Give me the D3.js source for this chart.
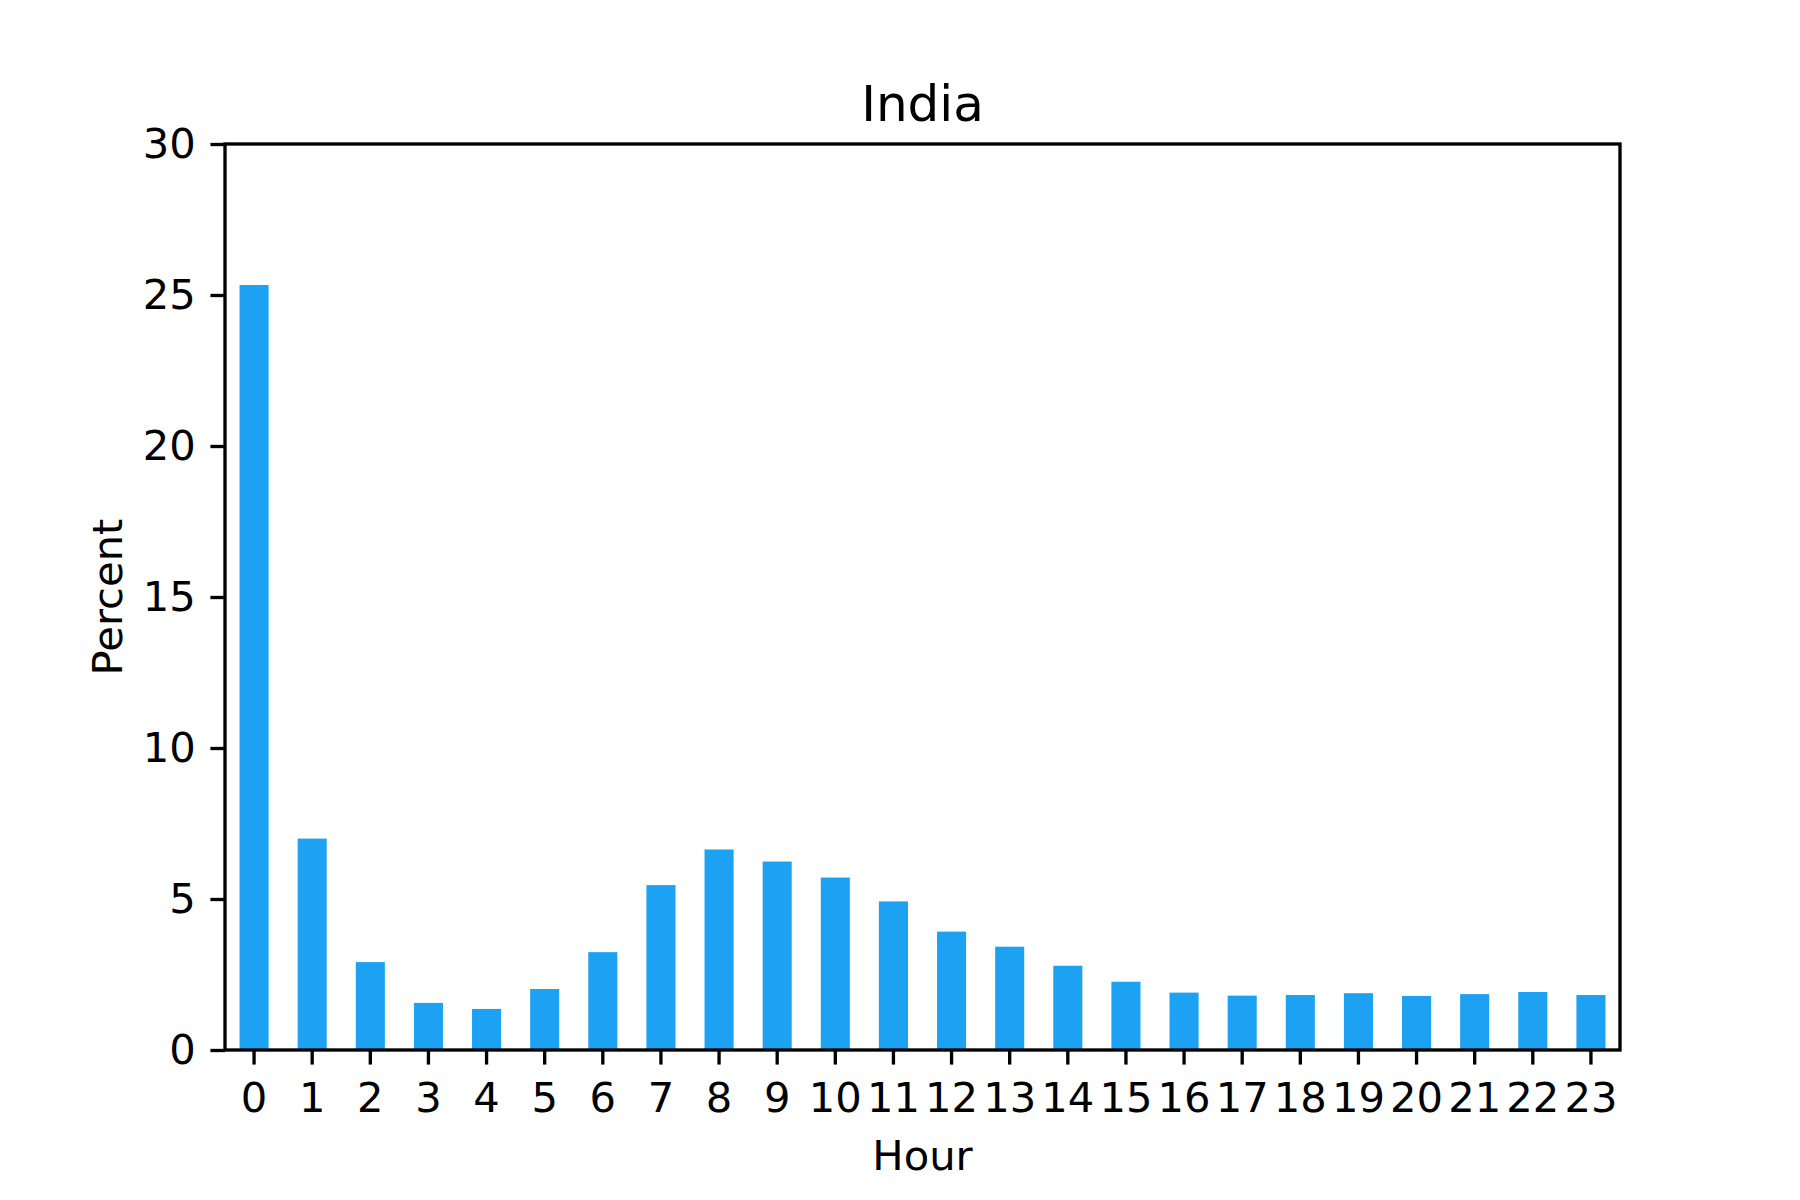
<!DOCTYPE html>
<html>
<head>
<meta charset="utf-8">
<script src="https://cdn.jsdelivr.net/npm/d3@7"></script>
<style>
  html, body { margin: 0; padding: 0; background: #fff; }
  svg { display: block; }
  text { font-family: "DejaVu Sans", sans-serif; fill: #000; }
</style>
</head>
<body>
<svg id="chart" width="1800" height="1200"></svg>
<script>
// ---- data ----
const hours = ["0","1","2","3","4","5","6","7","8","9","10","11","12","13","14","15","16","17","18","19","20","21","22","23"];
const percent = [25.33, 7.0, 2.91, 1.56, 1.36, 2.02, 3.24, 5.46, 6.64, 6.24, 5.71, 4.92, 3.92, 3.42, 2.79, 2.26, 1.90, 1.80, 1.82, 1.88, 1.79, 1.85, 1.92, 1.82];
const yTicks = [0, 5, 10, 15, 20, 25, 30];
const titleText = "India";
const xLabel = "Hour";
const yLabel = "Percent";

// ---- layout ----
const W = 1800, H = 1200;
const L = 225, R = 1620, T = 144, B = 1050;
const lw = 3.33, tickLen = 14.58, pad = 14.58;
const fs = 41.67, titleFs = 50;

const svg = d3.select("#chart");
svg.append("rect").attr("width", W).attr("height", H).attr("fill", "#fff");

const x = d3.scaleBand().domain(hours).range([L, R]).paddingInner(0.5).paddingOuter(0.25);
const y = d3.scaleLinear().domain([0, 30]).range([B, T]);

// bars
svg.append("g").selectAll("rect").data(hours).join("rect")
  .attr("x", d => x(d))
  .attr("width", x.bandwidth())
  .attr("y", (d, i) => y(percent[i]))
  .attr("height", (d, i) => y(0) - y(percent[i]))
  .attr("fill", "#1DA1F2");

// x axis
const xAxis = d3.axisBottom(x).tickSize(tickLen).tickSizeOuter(0).tickPadding(pad);
const gx = svg.append("g").attr("transform", `translate(0,${B})`).call(xAxis);
gx.select(".domain").remove();
gx.selectAll(".tick line").attr("stroke", "#000").attr("stroke-width", lw);
gx.selectAll(".tick text").attr("font-size", fs).attr("font-family", "DejaVu Sans").attr("fill", "#000").attr("dy", "0.78em");

// y axis
const yAxis = d3.axisLeft(y).tickValues(yTicks).tickFormat(d3.format("d")).tickSize(tickLen).tickSizeOuter(0).tickPadding(pad);
const gy = svg.append("g").attr("transform", `translate(${L},0)`).call(yAxis);
gy.select(".domain").remove();
gy.selectAll(".tick line").attr("stroke", "#000").attr("stroke-width", lw);
gy.selectAll(".tick text").attr("font-size", fs).attr("font-family", "DejaVu Sans").attr("fill", "#000");

// frame (spines)
svg.append("rect")
  .attr("x", L).attr("y", T).attr("width", R - L).attr("height", B - T)
  .attr("fill", "none").attr("stroke", "#000").attr("stroke-width", lw)
  .attr("stroke-linejoin", "miter");

// title & labels
svg.append("text").attr("x", (L + R) / 2).attr("y", 121)
  .attr("text-anchor", "middle").attr("font-size", titleFs).text(titleText);
svg.append("text").attr("x", (L + R) / 2).attr("y", 1170)
  .attr("text-anchor", "middle").attr("font-size", fs).text(xLabel);
svg.append("text")
  .attr("transform", `translate(122,${(T + B) / 2}) rotate(-90)`)
  .attr("text-anchor", "middle").attr("font-size", fs).text(yLabel);
</script>
</body>
</html>
